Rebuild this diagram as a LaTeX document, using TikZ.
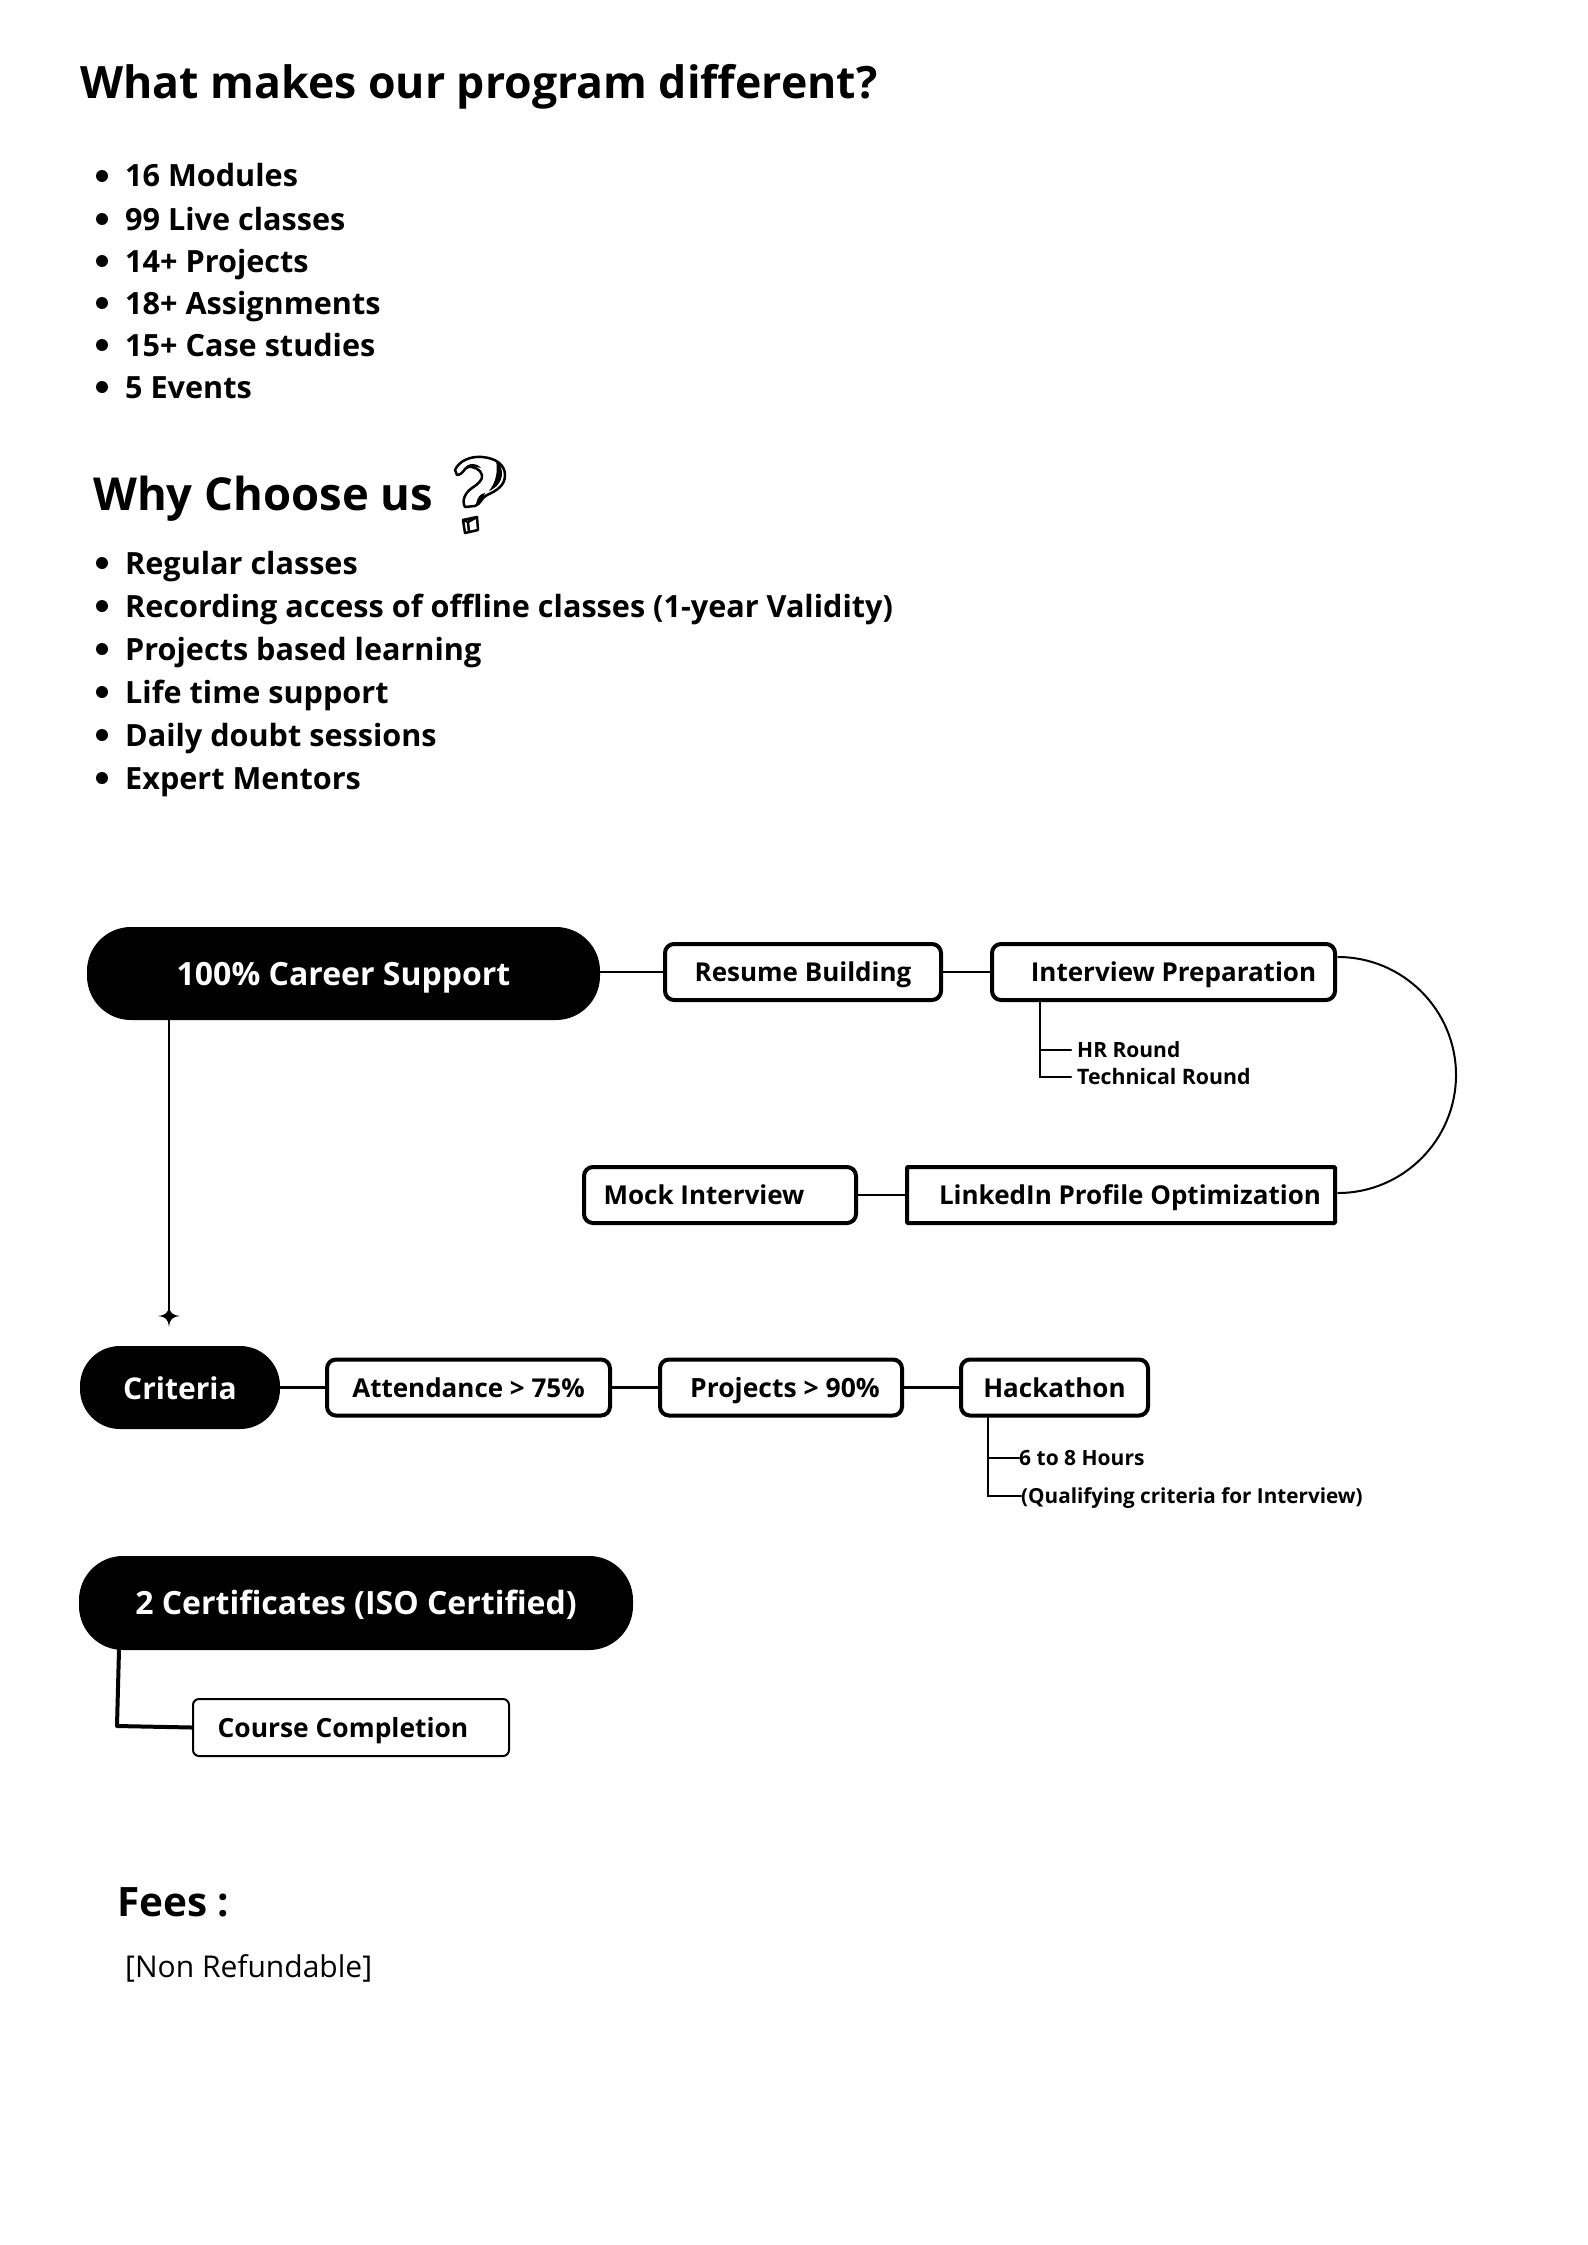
\documentclass[tikz,border=0pt]{standalone}
\usepackage{fontspec}
\setmainfont{Open Sans}
\begin{document}
\begin{tikzpicture}[x=1pt, y=-1pt, line cap=round,
		% Styles
		pill/.style={fill=black, text=white, font=\bfseries\fontsize{32}{40}\selectfont, rounded corners=44pt, inner sep=0pt, text height=23pt, text depth=0pt},
		stepbox/.style={draw, line width=4pt, fill=white, rounded corners=9pt, inner sep=0pt, font=\bfseries\fontsize{26}{34}\selectfont, text height=19pt, text depth=0pt},
		link/.style={line width=2.5pt},
		heading/.style={anchor=west, inner sep=0pt, font=\bfseries\fontsize{45.4}{54}\selectfont, text height=33pt, text depth=0pt},
		bullet text/.style={anchor=west, inner sep=0pt, font=\bfseries\fontsize{30.6}{40}\selectfont, text height=22pt, text depth=0pt},
		small text/.style={anchor=west, inner sep=0pt, font=\bfseries\fontsize{21}{28}\selectfont, text height=15pt, text depth=0pt}
		]
		
		\useasboundingbox (0, 0) rectangle (1587, 2245);
		
		% Title and first list
		\node[heading, font=\bfseries\fontsize{44.6}{54}\selectfont] (title) at (80, 82) {What makes our program different?};
		\foreach \i/\y/\itemtext in {1/176/16 Modules, 2/219/99 Live classes, 3/261/14+ Projects, 4/303/18+ Assignments, 5/345/15+ Case studies, 6/387/5 Events}
		{
			\fill (102, \y) circle [radius=6];
			\node[bullet text] (module\i) at (125, \y) {\itemtext};
		}
		
		% Second list
		\node[heading] (why) at (93, 494) {Why Choose us};
		\foreach \i/\y/\itemtext in {1/563/Regular classes, 2/606/Recording access of offline classes (1-year Validity), 3/649/Projects based learning, 4/692/Life time support, 5/735/Daily doubt sessions, 6/778/Expert Mentors}
		{
			\fill (102, \y) circle [radius=6];
			\node[bullet text] (reason\i) at (125, \y) {\itemtext};
		}
		
		% Question mark
		\begin{scope}[line width=2.5pt, line join=round]
			\draw (455, 470) .. controls (459, 461) and (470, 456) .. (482, 457)
				.. controls (496, 458) and (505, 465) .. (505, 475)
				.. controls (505, 486) and (496, 491) .. (487, 495)
				.. controls (481, 498) and (481, 504) .. (475, 506)
				-- (465, 507) .. controls (461, 500) and (466, 492) .. (472, 488)
				.. controls (478, 484) and (483, 480) .. (482, 475)
				.. controls (481, 469) and (472, 466) .. (468, 467)
				.. controls (463, 469) and (464, 474) .. (457, 475) -- cycle;
			\fill (462, 473) .. controls (465, 462) and (476, 462) .. (481, 468)
				.. controls (474, 466) and (468, 465) .. cycle;
			\fill (496, 460) .. controls (505, 468) and (505, 484) .. (489, 491)
				.. controls (496, 482) and (498, 472) .. cycle;
			\fill (476, 505) .. controls (477, 497) and (480, 494) .. (485, 493)
				.. controls (483, 499) and (482, 503) .. cycle;
			\draw (463, 520) -- (477, 517) -- (478, 530) -- (465, 533) -- cycle;
			\draw (463, 520) -- (468, 522) -- (477, 517) (468, 522) -- (469, 532);
		\end{scope}
		
		% Career support row
		\node[pill, minimum width=513pt, minimum height=93pt] (career) at (343.5, 973.5) {100\% Career Support};
		\node[stepbox, minimum width=276pt, minimum height=56pt] (resume) at (803, 972) {Resume Building};
		\node[stepbox, minimum width=343pt, minimum height=56pt] (interview) at (1163.5, 972) {\hspace*{20pt}Interview Preparation};
		\node[stepbox, minimum width=428pt, minimum height=56pt, rounded corners=1pt] (linkedin) at (1121, 1195) {\hspace*{18pt}LinkedIn Profile Optimization};
		\node[stepbox, minimum width=272pt, minimum height=56pt] (mock) at (720, 1195) {Mock Interview\hspace*{32pt}};
		
		\draw[link] (career.east |- resume) -- (resume);
		\draw[link] (resume) -- (interview);
		\draw[link] (mock) -- (linkedin);
		
		\coordinate (arc top) at (1338, 957);
		\coordinate (arc end) at (1338, 1193);
		\draw[line width=2pt] (arc top) .. controls (1403, 957) and (1456, 1010) .. (1456, 1075)
			.. controls (1456, 1140) and (1403, 1193) .. (arc end);
		
		% Interview rounds
		\node[small text] (hr) at (1077, 1050) {HR Round};
		\node[small text, font=\bfseries\fontsize{21.3}{28}\selectfont] (technical) at (1077, 1077) {Technical Round};
		\coordinate (round top) at (1040, 1001);
		\draw[link] (round top) |- ([xshift=-6pt]technical.west);
		\draw[link] (round top |- hr) -- ([xshift=-6pt]hr.west);
		
		% Criteria row
		\coordinate (star) at (169, 1316);
		\draw[line width=2pt] (career.south -| star) -- (star);
		\fill[shift={(star)}] (0, -10) .. controls (1, -3) and (3, -1) .. (11, 0)
			.. controls (3, 1) and (1, 3) .. (0, 11)
			.. controls (-1, 3) and (-3, 1) .. (-11, 0)
			.. controls (-3, -1) and (-1, -3) .. cycle;
		
		\node[pill, font=\bfseries\fontsize{30}{40}\selectfont, rounded corners=40pt, minimum width=200pt, minimum height=83pt] (criteria) at (180, 1387.5) {Criteria};
		\node[stepbox, minimum width=283pt, minimum height=56pt] (attendance) at (468.5, 1387.5) {Attendance > 75\%};
		\node[stepbox, font=\bfseries\fontsize{26.5}{34}\selectfont, minimum width=242pt, minimum height=56pt] (projects) at (781, 1387.5) {\hspace*{8pt}Projects > 90\%};
		\node[stepbox, minimum width=187pt, minimum height=56pt] (hackathon) at (1054.5, 1387.5) {Hackathon};
		
		\draw[link] (criteria) -- (attendance);
		\draw[link] (attendance) -- (projects);
		\draw[link] (projects) -- (hackathon);
		
		% Hackathon details
		\node[small text] (hours) at (1019, 1458) {6 to 8 Hours};
		\node[small text, font=\bfseries\fontsize{20.7}{28}\selectfont] (qualifying) at (1021, 1496) {(Qualifying criteria for Interview)};
		\coordinate (detail top) at (988, 1417);
		\draw[link] (detail top) |- (qualifying.west);
		\draw[link] (detail top |- hours) -- (hours.west);
		
		% Certificates
		\node[pill, minimum width=554pt, minimum height=94pt] (certificates) at (356, 1603) {2 Certificates (ISO Certified)};
		\node[stepbox, line width=2pt, rounded corners=6pt, font=\bfseries\fontsize{26.4}{34}\selectfont, minimum width=316pt, minimum height=57pt] (course) at (351, 1727.5) {Course Completion\hspace*{16pt}};
		\coordinate (elbow) at (117, 1726);
		\draw[line width=4pt, line join=round] (119, 1650) -- (elbow) -- (course.west);
		
		% Fees
		\node[heading, font=\bfseries\fontsize{40.5}{50}\selectfont, text height=29pt] (fees) at (117, 1902) {Fees :};
		\node[bullet text, font=\fontsize{30}{38}\selectfont] (refund) at (125, 1966) {[Non Refundable]};
		
	\end{tikzpicture}
\end{document}
